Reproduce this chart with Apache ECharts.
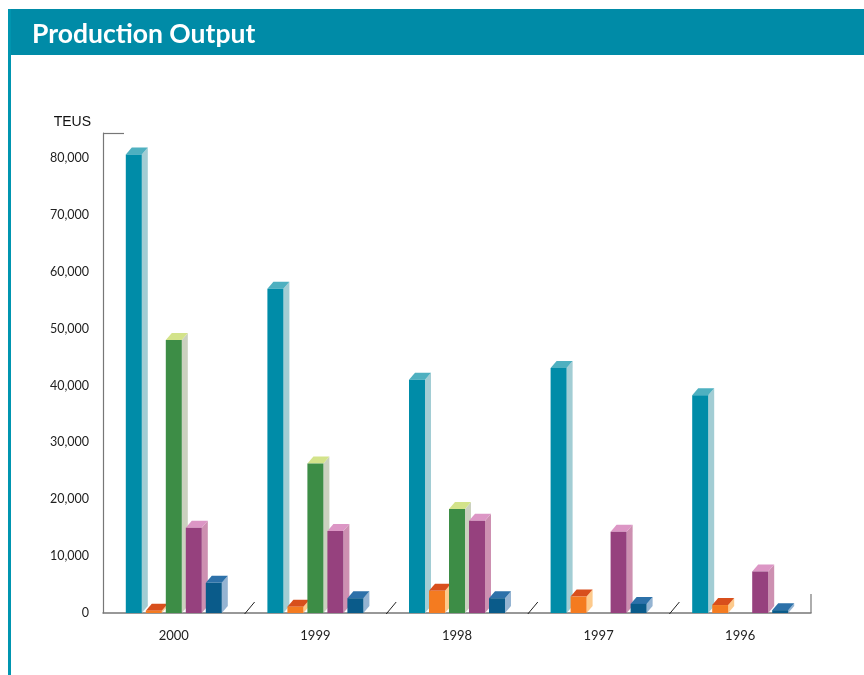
<!DOCTYPE html>
<html>
<head>
<meta charset="utf-8">
<script src="https://cdn.jsdelivr.net/npm/echarts@6/dist/echarts.min.js"></script>
<style>
html,body{margin:0;padding:0;background:#fff;}
#chart{width:864px;height:675px;}
</style>
</head>
<body>
<div id="chart"></div>
<script>
var title = 'Production Output';
var yAxisName = 'TEUS';
var categories = ['2000', '1999', '1998', '1997', '1996'];
var seriesTeal   = [80600, 57000, 41000, 43100, 38300];
var seriesOrange = [400, 1100, 3900, 2900, 1400];
var seriesGreen  = [48000, 26300, 18300, 0, 0];
var seriesPurple = [15000, 14400, 16200, 14300, 7300];
var seriesBlue   = [5300, 2600, 2600, 1600, 500];
var yTickInterval = 10000;
var yMax = 84400;

var palettes = [
  {front: '#008ca8', side: '#a2cdd4', top: '#4eb0c0'},
  {front: '#f47b20', side: '#fdca8c', top: '#d84f1c'},
  {front: '#3d8d46', side: '#cbd1bf', top: '#d3e38a'},
  {front: '#96417e', side: '#cd90b1', top: '#dc96c5'},
  {front: '#0a5b8a', side: '#95b4d2', top: '#2d71a9'}
];
var allSeries = [seriesTeal, seriesOrange, seriesGreen, seriesPurple, seriesBlue];

var BW = 16, STEP = 20, DX = 6, DY = 7;

function make3D(idx) {
  var pal = palettes[idx];
  return function (params, api) {
    var v = api.value(1);
    if (!v) return null;
    var c = api.value(0);
    var base = api.coord([c, 0]);
    var top = api.coord([c, v]);
    var cx = base[0] + (idx - 2) * STEP;
    var x0 = cx - BW / 2;
    var yb = base[1], yt = top[1];
    return {
      type: 'group',
      children: [
        {type: 'polygon', shape: {points: [[x0 + BW, yt], [x0 + BW + DX, yt - DY], [x0 + BW + DX, yb - DY], [x0 + BW, yb]]},
         style: {fill: pal.side}},
        {type: 'polygon', shape: {points: [[x0, yt], [x0 + DX, yt - DY], [x0 + BW + DX, yt - DY], [x0 + BW, yt]]},
         style: {fill: pal.top}},
        {type: 'rect', shape: {x: x0, y: yt, width: BW, height: yb - yt},
         style: {fill: pal.front}}
      ]
    };
  };
}

var series = allSeries.map(function (arr, idx) {
  return {
    type: 'custom',
    renderItem: make3D(idx),
    clip: false,
    encode: {x: 0, y: 1},
    data: arr.map(function (v, i) { return [i, v]; }),
    z: 3
  };
});

// slash separators between categories
series.push({
  type: 'custom',
  clip: false,
  z: 4,
  data: categories.slice(0, categories.length - 1).map(function (c, i) { return [i, 0]; }),
  encode: {x: 0, y: 1},
  renderItem: function (params, api) {
    var base = api.coord([api.value(0), 0]);
    var w = api.size([1, 0])[0];
    var x = base[0] + w / 2 + 5;
    var y = base[1];
    return {type: 'line', shape: {x1: x - 5, y1: y + 1, x2: x + 5, y2: y - 11},
            style: {stroke: '#222', lineWidth: 1}};
  }
});

// axis end decorations (top bracket tick, right end tick)
series.push({
  type: 'custom',
  clip: false,
  z: 4,
  data: [[0, 0]],
  encode: {x: 0, y: 1},
  renderItem: function (params, api) {
    var cs = params.coordSys;
    return {
      type: 'group',
      children: [
        {type: 'line', shape: {x1: cs.x, y1: cs.y + 0.5, x2: cs.x + 21, y2: cs.y + 0.5},
         style: {stroke: '#777', lineWidth: 1.2}},
        {type: 'line', shape: {x1: cs.x + cs.width, y1: cs.y + cs.height - 19, x2: cs.x + cs.width, y2: cs.y + cs.height},
         style: {stroke: '#777', lineWidth: 1.2}}
      ]
    };
  }
});

var chart = echarts.init(document.getElementById('chart'));
chart.setOption({
  backgroundColor: '#ffffff',
  animation: false,
  title: {
    text: title,
    left: 27,
    top: 16,
    textStyle: {color: '#ffffff', fontFamily: 'Lato', fontWeight: 'bold', fontSize: 26.5}
  },
  graphic: [
    {type: 'rect', left: 8, top: 9, shape: {width: 856, height: 46}, style: {fill: '#008ba7'}, z: -1},
    {type: 'rect', left: 8, top: 9, shape: {width: 3, height: 666}, style: {fill: '#0095b0'}, z: -1}
  ],
  grid: {left: 103, right: 53, top: 133, bottom: 62},
  xAxis: {
    type: 'category',
    data: categories,
    axisLine: {show: true, lineStyle: {color: '#777', width: 1.5}},
    axisTick: {show: false},
    axisLabel: {color: '#222', fontFamily: 'Lato', fontSize: 13, margin: 16}
  },
  yAxis: {
    type: 'value',
    min: 0,
    max: yMax,
    interval: yTickInterval,
    name: yAxisName,
    nameLocation: 'end',
    nameGap: 11,
    nameTextStyle: {color: '#111', fontFamily: 'Liberation Sans', fontSize: 14, align: 'right', verticalAlign: 'middle', padding: [0, 12, 0, 0]},
    axisLine: {show: true, lineStyle: {color: '#777', width: 1.2}},
    axisTick: {show: false},
    splitLine: {show: false},
    axisLabel: {
      color: '#222', fontFamily: 'Lato', fontSize: 12.5, margin: 14,
      showMaxLabel: false,
      formatter: function (v) {
        if (v % yTickInterval !== 0) return '';
        return v.toLocaleString('en-US');
      }
    }
  },
  series: series
});
</script>
</body>
</html>
